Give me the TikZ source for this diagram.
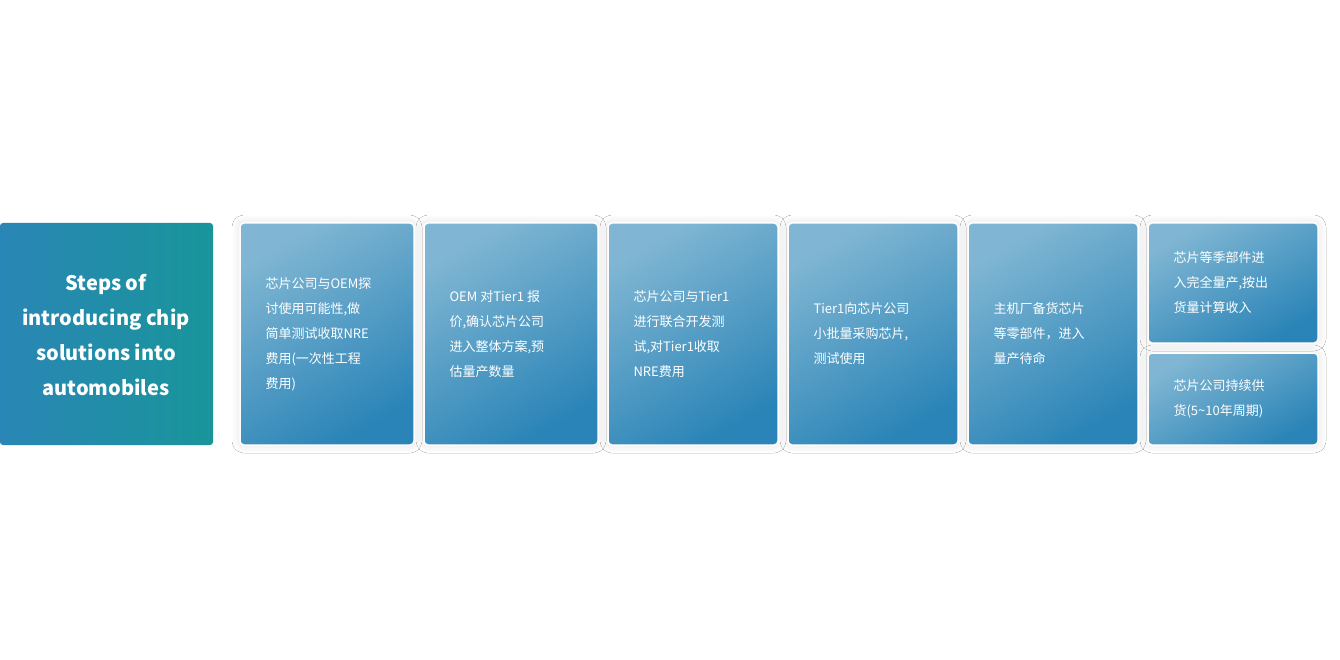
\documentclass[tikz,border=0pt]{standalone}
\usepackage{fontspec}
\setmainfont{Noto Sans CJK SC}
\usetikzlibrary{positioning,shadows.blur}
\definecolor{steplight}{HTML}{80B6D3}
\definecolor{stepdark}{HTML}{2A84B7}
\definecolor{titleblue}{HTML}{2A86B6}
\definecolor{titleteal}{HTML}{19959A}
\tikzset{
    stepbox/.style={
        draw=white,
        line width=1.5pt,
        rounded corners=4pt,
        left color=steplight,
        right color=stepdark,
        shading angle=30,
        blur shadow={shadow blur steps=8, shadow xshift=0pt, shadow yshift=0pt, shadow blur radius=8pt, shadow opacity=12}
    },
    steptext/.style={
        anchor=west,
        align=left,
        text=white,
        font=\fontsize{13}{25}\selectfont
    }
}
\begin{document}
\begin{tikzpicture}[x=1pt,y=-1pt]
    \useasboundingbox[fill=white] (0,0) rectangle (1340,660);
    % title box
    \shade[left color=titleblue, right color=titleteal, rounded corners=3pt]
        (0,223) rectangle (213,445);
    \node[text=white, align=center, font=\fontsize{20}{35}\bfseries\selectfont] (title) at (106,335)
        {Steps of\\introducing chip\\solutions into\\automobiles};

    % step boxes
    \path[stepbox] (240,223) rectangle (414,445);
    \path[stepbox] (424,223) rectangle (598,445);
    \path[stepbox] (608,223) rectangle (778,445);
    \path[stepbox] (788,223) rectangle (958,445);
    \path[stepbox] (968,223) rectangle (1138,445);
    \path[stepbox] (1148,223) rectangle (1318,343);
    \path[stepbox] (1148,353) rectangle (1318,445);

    % texts
    \node[steptext] (s1) at (262,334) {芯片公司与OEM探\\讨使用可能性,做\\简单测试收取NRE\\费用(一次性工程\\费用)};
    \node[steptext] (s2) at (446,334) {OEM 对Tier1 报\\价,确认芯片公司\\进入整体方案,预\\估量产数量};
    \node[steptext] (s3) at (630,334) {芯片公司与Tier1\\进行联合开发测\\试,对Tier1收取\\NRE费用};
    \node[steptext] (s4) at (810,334) {Tier1向芯片公司\\小批量采购芯片,\\测试使用};
    \node[steptext] (s5) at (990,334) {主机厂备货芯片\\等零部件，进入\\量产待命};
    \node[steptext] (s6) at (1170,283) {芯片等季部件进\\入完全量产,按出\\货量计算收入};
    \node[steptext] (s7) at (1170,399) {芯片公司持续供\\货(5\textasciitilde10年周期)};
\end{tikzpicture}
\end{document}
